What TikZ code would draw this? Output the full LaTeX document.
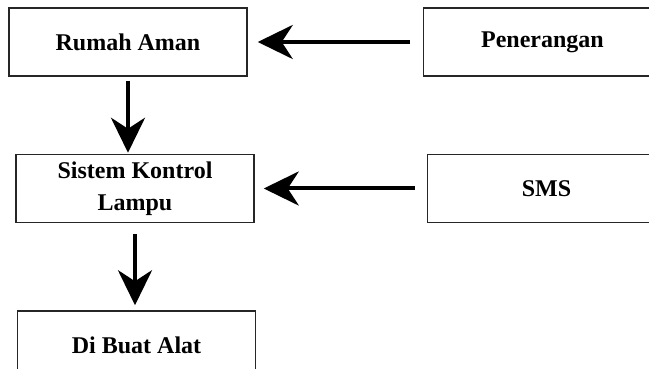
\documentclass[tikz,border=0pt]{standalone}
\usepackage{fontspec}
\setmainfont{Liberation Serif}
\usetikzlibrary{arrows.meta, positioning}
\tikzstyle{box} = [rectangle, minimum width = 238pt, minimum height=68pt, text centered, align=center, draw = black!85, line width=1.5pt, font=\fontsize{24}{32}\selectfont\bfseries]
\tikzstyle{arrow} = [-{Stealth[length=35pt, width=34pt, inset=11pt]}, line width=4pt]
\begin{document}
\begin{tikzpicture}
	\useasboundingbox (0,0) rectangle (649pt,369pt);
	\node (ruma) [box] at (128pt,327pt) {Rumah Aman};
	\node (pener) [box, right=175pt of ruma] {Penerangan};
	\node (sistem) [box, below=77pt of ruma, xshift=7pt] {Sistem Kontrol\\Lampu};
	\node (sms) [box, right=172pt of sistem] {SMS};
	\node (dibuat) [box, below=87pt of sistem, xshift=1.5pt] {Di Buat Alat};
	\draw [arrow, shorten <=13pt, shorten >=10pt](pener) -- (ruma);
	\draw [arrow, shorten <=12pt, shorten >=9pt](sms) -- (sistem);
	\draw [arrow, shorten <=4pt, shorten >=1pt](ruma.south) -- (ruma.south |- sistem.north);
	\draw [arrow, shorten <=11pt, shorten >=5pt](sistem.south) -- (sistem.south |- dibuat.north);
\end{tikzpicture}
\end{document}
